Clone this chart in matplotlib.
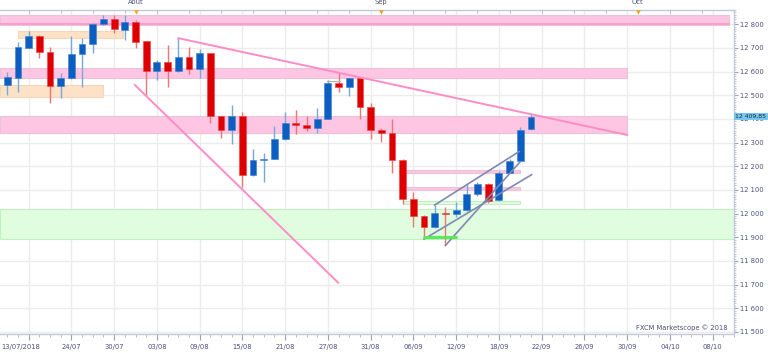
import matplotlib
matplotlib.use('Agg')
import matplotlib.pyplot as plt
import matplotlib.transforms as mtransforms
from matplotlib.patches import Rectangle
from matplotlib.ticker import FixedLocator, MultipleLocator, FuncFormatter
import numpy as np

# ---------------- data ----------------
dates = ['16/07', '17/07', '18/07', '19/07', '20/07', '23/07', '24/07', '25/07', '26/07', '27/07',
         '30/07', '31/07', '01/08', '02/08', '03/08', '06/08', '07/08', '08/08', '09/08', '10/08',
         '13/08', '14/08', '15/08', '16/08', '17/08', '20/08', '21/08', '22/08', '23/08', '24/08',
         '27/08', '28/08', '29/08', '30/08', '31/08', '03/09', '04/09', '05/09', '06/09', '07/09',
         '10/09', '11/09', '12/09', '13/09', '14/09', '17/09', '18/09', '19/09', '20/09', '21/09']
opens = [12543, 12572, 12701, 12752, 12682, 12539, 12572, 12673, 12718, 12802,
         12821, 12776, 12808, 12728, 12604, 12640, 12604, 12661, 12610, 12678,
         12410, 12351, 12413, 12163, 12228, 12231, 12314, 12384, 12373, 12361,
         12400, 12553, 12534, 12572, 12449, 12351, 12342, 12227, 12062, 11990,
         11945, 12001, 11998, 12013, 12082, 12124, 12058, 12173, 12224, 12356]
highs = [12600, 12724, 12773, 12755, 12703, 12593, 12748, 12741, 12807, 12839,
         12839, 12839, 12818, 12730, 12649, 12712, 12741, 12703, 12694, 12680,
         12412, 12459, 12427, 12273, 12255, 12370, 12428, 12438, 12410, 12445,
         12565, 12593, 12572, 12574, 12466, 12361, 12399, 12230, 12093, 11995,
         12037, 12027, 12050, 12124, 12135, 12128, 12181, 12230, 12367, 12424]
lows = [12501, 12515, 12701, 12656, 12466, 12487, 12570, 12536, 12680, 12797,
        12764, 12734, 12699, 12501, 12565, 12536, 12600, 12589, 12574, 12382,
        12321, 12293, 12111, 12160, 12135, 12230, 12312, 12336, 12350, 12342,
        12398, 12515, 12497, 12399, 12314, 12304, 12171, 12041, 11942, 11896,
        11938, 11865, 11987, 12010, 12072, 12044, 12055, 12170, 12222, 12354]
closes = [12576, 12703, 12752, 12682, 12539, 12572, 12673, 12718, 12802, 12821,
          12779, 12808, 12726, 12604, 12640, 12604, 12661, 12610, 12678, 12410,
          12351, 12413, 12163, 12227, 12231, 12314, 12384, 12373, 12361, 12400,
          12553, 12534, 12572, 12449, 12351, 12342, 12227, 12062, 11990, 11945,
          12004, 11997, 12013, 12083, 12124, 12055, 12173, 12224, 12353, 12409.85]
last_price = 12409.85

# bottom axis labels (index positions: trading days, then calendar days in the future)
tick_pos = [6, 10, 14, 18, 22, 26, 30, 34, 38, 42, 46, 50, 54, 58, 62, 66]
tick_labels = ['24/07', '30/07', '03/08', '09/08', '15/08', '21/08', '27/08', '31/08',
               '06/09', '12/09', '18/09', '22/09', '26/09', '30/09', '04/10', '08/10']
first_label = '13/07/2018'
month_pos = [12, 35, 59]
month_labels = ['Août', 'Sep', 'Oct']

# zones: (x0, x1, y0, y1)
pink_zones = [(-0.7, 67.5, 12797, 12839), (-0.7, 58.0, 12574, 12614), (-0.7, 58.0, 12340, 12410),
              (36.7, 48.0, 12170, 12184), (37.4, 48.0, 12100, 12114)]
orange_zones = [(1.0, 10.8, 12741, 12772), (-0.7, 8.95, 12494, 12541)]
green_zones = [(-0.7, 68.0, 11892, 12018), (37.05, 48.0, 12040, 12053)]
pink_lines = [((16.0, 12741), (58.0, 12332)), ((11.94, 12543), (30.96, 11708))]
channel_lines = [((40.0, 12036), (47.9, 12262)), ((39.0, 11892), (49.06, 12164)),
                 ((41.0, 11865), (47.96, 12217))]
level_line = ((38.9, 11900), (42.05, 11900))
grey_seg = ((29.9, 12562), (31.1, 12562))

# ---------------- style ----------------
BLUE = '#0c5ec0'
RED = '#de0000'
BLUE_W = '#76a8dc'
RED_W = '#f07474'
TXT = '#4f4f7e'
GRID = '#ececec'

fig = plt.figure(figsize=(7.68, 3.53), dpi=100)
ax = fig.add_axes([0.0, 0.0538, 0.9557, 0.9179])
ax.set_xlim(-0.68, 68.0)
ax.set_ylim(11491, 12860)

# grid
for v in [2] + tick_pos:
    ax.axvline(v, color=GRID, lw=1.0, zorder=0)
for h in range(11500, 12900, 100):
    ax.axhline(h, color=GRID, lw=1.0, zorder=0)

# zones
for (x0, x1, y0, y1) in pink_zones:
    ax.add_patch(Rectangle((x0, y0), x1 - x0, y1 - y0, facecolor='#ffc6e3',
                           edgecolor='#e9c3d7', lw=0.8, zorder=1))
for (x0, x1, y0, y1) in orange_zones:
    ax.add_patch(Rectangle((x0, y0), x1 - x0, y1 - y0, facecolor='#fde2c8',
                           edgecolor='#f6d6b8', lw=0.8, zorder=1))
for (x0, x1, y0, y1) in green_zones:
    ax.add_patch(Rectangle((x0, y0), x1 - x0, y1 - y0, facecolor='#e0fde0',
                           edgecolor='#bff2bf', lw=0.8, zorder=1))
ax.plot([-0.7, 67.5], [12800, 12800], color='#ff98cb', lw=1.3, zorder=1.5)

# candles
x = np.arange(len(opens))
o = np.array(opens); c = np.array(closes); h = np.array(highs); l = np.array(lows)
up = c >= o
body_lo = np.minimum(o, c)
body_h = np.maximum(np.abs(c - o), 4)
ax.vlines(x[up], l[up], h[up], color=BLUE_W, lw=1.0, zorder=3)
ax.vlines(x[~up], l[~up], h[~up], color=RED_W, lw=1.0, zorder=3)
ax.bar(x[up], body_h[up], bottom=body_lo[up], width=0.64, color=BLUE, edgecolor='#3d7fd0',
       lw=0.4, zorder=4)
ax.bar(x[~up], body_h[~up], bottom=body_lo[~up], width=0.64, color=RED, edgecolor='#ee4040',
       lw=0.4, zorder=4)

# trend lines
for (p0, p1) in pink_lines:
    ax.plot([p0[0], p1[0]], [p0[1], p1[1]], color='#ff8cc6', lw=1.4, zorder=5)
for (p0, p1) in channel_lines:
    ax.plot([p0[0], p1[0]], [p0[1], p1[1]], color='#8088b4', lw=1.2, zorder=5)
ax.plot([level_line[0][0], level_line[1][0]], [level_line[0][1], level_line[1][1]],
        color='#5fe65f', lw=2.2, zorder=5, solid_capstyle='butt')
ax.plot([grey_seg[0][0], grey_seg[1][0]], [grey_seg[0][1], grey_seg[1][1]],
        color='#b0b0b0', lw=0.8, zorder=5)

# axes styling
ax.spines['left'].set_visible(False)
for s in ['top', 'bottom', 'right']:
    ax.spines[s].set_color('#c4c8d8')
    ax.spines[s].set_linewidth(1.0)

FS = 4.9
# bottom ticks
ax.xaxis.set_major_locator(FixedLocator([2] + tick_pos))
ax.xaxis.set_major_formatter(FuncFormatter(lambda v, p: ''))
ax.xaxis.set_minor_locator(MultipleLocator(1))
ax.tick_params(axis='x', which='major', direction='out', length=4, color='#9aa0b8', width=0.8,
               bottom=True, top=False)
ax.tick_params(axis='x', which='minor', direction='out', length=2, color='#b0b4c8', width=0.6,
               top=False)
xblend = mtransforms.blended_transform_factory(ax.transData, ax.transAxes)
for pos, lab in zip(tick_pos, tick_labels):
    ax.text(pos, -0.03, lab, transform=xblend, ha='center', va='top', fontsize=FS, color=TXT)
ax.text(0.0015, -0.03, first_label, transform=ax.transAxes, ha='left', va='top',
        fontsize=FS, color=TXT)

# top axis: month labels, markers, small ticks
for v in np.arange(2, 68, 3):
    ax.plot([v, v], [1.0, 0.992], transform=xblend, color='#b0b4c8', lw=0.6, clip_on=False, zorder=6)
for pos, lab in zip(month_pos, month_labels):
    ax.text(pos, 1.014, lab, transform=xblend, ha='center', va='bottom', fontsize=FS, color=TXT)
    ax.plot([pos], [0.995], transform=xblend, marker='v', color='#f4a21c', markersize=3.2,
            clip_on=False, zorder=7, markeredgewidth=0)

# right axis
ax.yaxis.tick_right()
ax.yaxis.set_major_locator(MultipleLocator(100))
ax.yaxis.set_minor_locator(MultipleLocator(10))
ax.yaxis.set_major_formatter(FuncFormatter(lambda v, p: f"{int(v):,}".replace(',', ' ')))
ax.tick_params(axis='y', which='major', direction='out', length=3, color='#9aa0b8', width=0.8,
               labelsize=FS, labelcolor=TXT, pad=1.2, left=False)
ax.tick_params(axis='y', which='minor', direction='out', length=1.5, color='#b0b4c8', width=0.5,
               left=False)

# last price tag
ptrans = mtransforms.blended_transform_factory(ax.transAxes, ax.transData)
ax.text(1.002, last_price, f"{last_price:,.2f}".replace(',', ' ').replace('.', ','),
        transform=ptrans, ha='left', va='center', fontsize=4.4, color='#1c2448', zorder=10,
        bbox=dict(facecolor='#74c8ee', edgecolor='none', pad=0.9), clip_on=False)

# watermark
ax.text(0.991, 0.008, 'FXCM Marketscope © 2018', transform=ax.transAxes, ha='right', va='bottom',
        fontsize=FS, color=TXT, zorder=8)

fig.savefig('out.png', dpi=100)
